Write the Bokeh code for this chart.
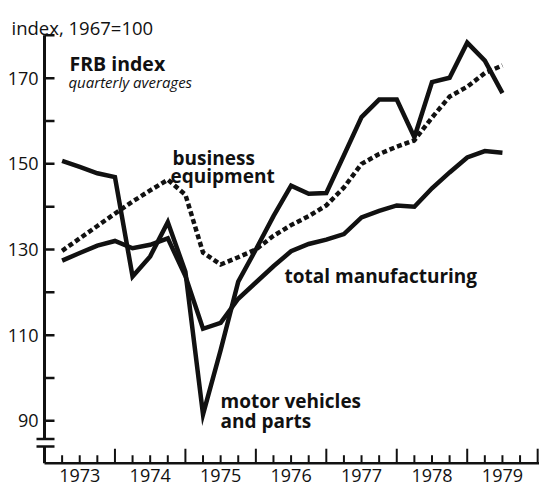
from bokeh.plotting import figure
from bokeh.models import Range1d
from bokeh.core.properties import value
from bokeh.embed import file_html
from bokeh.resources import INLINE

# ---------------- data (FRB index, 1967=100, quarterly averages) ----------------
quarters = ["1973Q1", "1973Q2", "1973Q3", "1973Q4",
            "1974Q1", "1974Q2", "1974Q3", "1974Q4",
            "1975Q1", "1975Q2", "1975Q3", "1975Q4",
            "1976Q1", "1976Q2", "1976Q3", "1976Q4",
            "1977Q1", "1977Q2", "1977Q3", "1977Q4",
            "1978Q1", "1978Q2", "1978Q3", "1978Q4",
            "1979Q1", "1979Q2"]
motor_vehicles = [150.7, 149.3, 147.8, 146.9, 123.7, 128.4, 136.4, 124.8,
                  91.5, 106.5, 122.5, 130.0, 137.8, 144.9, 143.0, 143.2,
                  152.0, 160.9, 165.0, 165.0, 156.2, 169.1, 170.1, 178.3,
                  174.1, 166.5]
total_manufacturing = [127.4, 129.2, 130.9, 132.0, 130.3, 131.1, 132.6, 123.8,
                       111.5, 112.9, 118.5, 122.3, 126.1, 129.6, 131.3, 132.3,
                       133.6, 137.5, 139.0, 140.3, 140.0, 144.3, 148.0, 151.5,
                       153.0, 152.6]
business_equipment = [129.7, 132.6, 135.5, 138.4, 141.2, 143.8, 146.3, 142.8,
                      129.3, 126.5, 128.2, 130.0, 133.2, 135.7, 137.8, 140.3,
                      144.5, 150.0, 152.3, 154.0, 155.5, 160.8, 165.7, 168.0,
                      171.2, 173.0]
year_labels = ["1973", "1974", "1975", "1976", "1977", "1978", "1979"]
y_tick_values = [90, 100, 110, 120, 130, 140, 150, 160, 170, 180]
y_label_values = [90, 110, 130, 150, 170]

# quarter -> decimal year at the end of the quarter
xq = [int(q[:4]) + int(q[-1]) / 4 for q in quarters]

# ---------------- layout ----------------
W, H = 539, 490
x0, x1 = 1972.3754, 1980.026
y0, y1 = 73.74, 188.14
sx = W / (x1 - x0)      # px per year
sy = H / (y1 - y0)      # px per index point

FONT = value("Open Sans")
BLACK = "#111111"

p = figure(width=W, height=H, output_backend="svg", toolbar_location=None,
           x_range=Range1d(x0, x1), y_range=Range1d(y0, y1),
           x_axis_location=None, y_axis_location=None, min_border=0)
p.outline_line_color = None
p.grid.visible = False
p.background_fill_color = "white"
p.border_fill_color = "white"

first_year = int(year_labels[0])
last_year = int(year_labels[-1]) + 1
axis_x = first_year
axis_y = 80.11
top_y = y_tick_values[-1]
brk_hi, brk_lo = 85.76, 84.0

# y axis line with a break
p.line([axis_x, axis_x], [top_y, brk_hi], line_width=3, color=BLACK)
p.line([axis_x, axis_x], [brk_lo, axis_y], line_width=3, color=BLACK)
bar_l = axis_x - 8 / sx
bar_r = axis_x + 10 / sx
p.segment(x0=[bar_l, bar_l], y0=[brk_hi, brk_lo], x1=[bar_r, bar_r], y1=[brk_hi, brk_lo],
          line_width=2.5, color=BLACK)

# y ticks (pointing right) and labels
tick_len_x = 10 / sx
p.segment(x0=[axis_x] * len(y_tick_values), y0=y_tick_values,
          x1=[axis_x + tick_len_x] * len(y_tick_values), y1=y_tick_values,
          line_width=2.5, color=BLACK)
p.text(x=[axis_x - 6 / sx] * len(y_label_values), y=y_label_values,
       text=[str(v) for v in y_label_values], text_align="right", text_baseline="middle",
       text_font=FONT, text_font_size=value("18px"), text_color=BLACK)

# x axis line
p.line([axis_x, x1], [axis_y, axis_y], line_width=2.5, color=BLACK)
# quarter ticks and year ticks (pointing up)
q_ticks = [first_year + k / 4 for k in range(1, (last_year - first_year) * 4 + 1) if k % 4]
y_ticks_x = [float(y) for y in range(first_year + 1, last_year + 1)]
p.segment(x0=q_ticks, y0=[axis_y] * len(q_ticks), x1=q_ticks,
          y1=[axis_y + 8 / sy] * len(q_ticks), line_width=2, color=BLACK)
p.segment(x0=y_ticks_x, y0=[axis_y] * len(y_ticks_x), x1=y_ticks_x,
          y1=[axis_y + 14.5 / sy] * len(y_ticks_x), line_width=2, color=BLACK)
# year labels centred in each year
p.text(x=[int(y) + 0.5 for y in year_labels], y=[axis_y - 12.5 / sy] * len(year_labels),
       text=year_labels, text_align="center", text_baseline="middle",
       text_font=FONT, text_font_size=value("18px"), text_color=BLACK)

# ---------------- series ----------------
p.line(xq, business_equipment, line_width=4.5, color=BLACK, line_dash="5 3", line_join="miter")
p.line(xq, total_manufacturing, line_width=4.5, color=BLACK, line_join="miter")
p.line(xq, motor_vehicles, line_width=4.5, color=BLACK, line_join="miter")

# ---------------- texts ----------------
def txt(x, y, s, size="19px", style="bold", align="left"):
    p.text(x=[x], y=[y], text=[s], text_font=FONT, text_font_size=value(size),
           text_font_style=style, text_align=align, text_baseline="alphabetic",
           text_color=BLACK)

txt(1972.532, 181.9, "index, 1967=100", size="18.5px", style="normal")
txt(1973.355, 173.43, "FRB index", size="19.5px")
txt(1973.340, 169.2, "quarterly averages", size="15px", style="italic")
txt(1974.817, 151.48, "business")
txt(1974.789, 147.05, "equipment")
txt(1976.407, 123.93, "total manufacturing")
txt(1975.498, 94.60, "motor vehicles")
txt(1975.498, 89.90, "and parts")

open("out.html", "w").write(file_html(p, INLINE))
